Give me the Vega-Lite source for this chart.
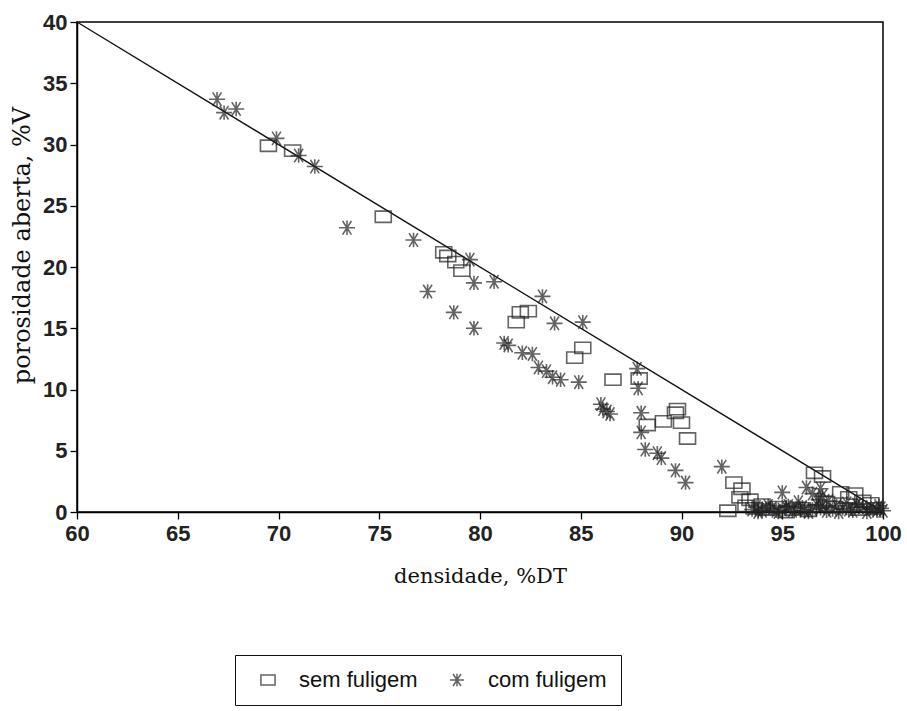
{
  "$schema": "https://vega.github.io/schema/vega-lite/v6.json",
  "width": 806,
  "height": 490,
  "autosize": {"type": "none"},
  "padding": {"left": 77, "top": 22, "right": 24, "bottom": 199},
  "background": "white",
  "config": {
    "view": {"stroke": "black", "strokeWidth": 1.5},
    "axis": {
      "grid": false,
      "labelFlush": false,
      "labelOverlap": false,
      "domainColor": "black",
      "domainWidth": 1.5,
      "tickColor": "black",
      "tickWidth": 1.3,
      "tickSize": 7,
      "labelFont": "Liberation Sans",
      "labelFontSize": 22,
      "labelFontWeight": "bold",
      "labelColor": "#222",
      "titleFont": "DejaVu Serif",
      "titleFontWeight": "normal",
      "titleColor": "#111"
    }
  },
  "datasets": {
    "ref": [{"x": 60, "y": 40}, {"x": 100, "y": 0}],
    "pts": [
      {"serie": "sem fuligem", "d": 69.5, "p": 29.9},
      {"serie": "sem fuligem", "d": 70.7, "p": 29.5},
      {"serie": "sem fuligem", "d": 75.2, "p": 24.1},
      {"serie": "sem fuligem", "d": 78.2, "p": 21.2},
      {"serie": "sem fuligem", "d": 78.4, "p": 20.9},
      {"serie": "sem fuligem", "d": 78.8, "p": 20.4},
      {"serie": "sem fuligem", "d": 79.1, "p": 19.7},
      {"serie": "sem fuligem", "d": 81.8, "p": 15.5},
      {"serie": "sem fuligem", "d": 82.0, "p": 16.3},
      {"serie": "sem fuligem", "d": 82.4, "p": 16.4},
      {"serie": "sem fuligem", "d": 84.7, "p": 12.6},
      {"serie": "sem fuligem", "d": 85.1, "p": 13.4},
      {"serie": "sem fuligem", "d": 86.6, "p": 10.8},
      {"serie": "sem fuligem", "d": 87.9, "p": 10.9},
      {"serie": "sem fuligem", "d": 88.3, "p": 7.1},
      {"serie": "sem fuligem", "d": 89.1, "p": 7.4},
      {"serie": "sem fuligem", "d": 89.7, "p": 8.1},
      {"serie": "sem fuligem", "d": 89.8, "p": 8.4},
      {"serie": "sem fuligem", "d": 90.0, "p": 7.3},
      {"serie": "sem fuligem", "d": 90.3, "p": 6.0},
      {"serie": "sem fuligem", "d": 92.3, "p": 0.1},
      {"serie": "sem fuligem", "d": 92.6, "p": 2.4},
      {"serie": "sem fuligem", "d": 93.0, "p": 1.9},
      {"serie": "sem fuligem", "d": 92.9, "p": 1.2},
      {"serie": "sem fuligem", "d": 93.4, "p": 1.0},
      {"serie": "sem fuligem", "d": 93.2, "p": 0.5},
      {"serie": "sem fuligem", "d": 93.6, "p": 0.3},
      {"serie": "sem fuligem", "d": 94.0, "p": 0.6},
      {"serie": "sem fuligem", "d": 94.2, "p": 0.2},
      {"serie": "sem fuligem", "d": 94.8, "p": 0.4},
      {"serie": "sem fuligem", "d": 95.2, "p": 0.0},
      {"serie": "sem fuligem", "d": 95.5, "p": 0.2},
      {"serie": "sem fuligem", "d": 96.0, "p": 0.3},
      {"serie": "sem fuligem", "d": 96.3, "p": 0.1},
      {"serie": "sem fuligem", "d": 96.6, "p": 3.2},
      {"serie": "sem fuligem", "d": 97.0, "p": 2.9},
      {"serie": "sem fuligem", "d": 97.2, "p": 0.8},
      {"serie": "sem fuligem", "d": 97.6, "p": 0.4},
      {"serie": "sem fuligem", "d": 97.9, "p": 1.6},
      {"serie": "sem fuligem", "d": 98.3, "p": 1.2},
      {"serie": "sem fuligem", "d": 98.6, "p": 1.5},
      {"serie": "sem fuligem", "d": 98.8, "p": 0.2},
      {"serie": "sem fuligem", "d": 99.0, "p": 0.9},
      {"serie": "sem fuligem", "d": 99.4, "p": 0.7},
      {"serie": "sem fuligem", "d": 99.6, "p": 0.3},
      {"serie": "com fuligem", "d": 66.95, "p": 33.7},
      {"serie": "com fuligem", "d": 67.3, "p": 32.6},
      {"serie": "com fuligem", "d": 67.9, "p": 32.9},
      {"serie": "com fuligem", "d": 69.9, "p": 30.5},
      {"serie": "com fuligem", "d": 71.0, "p": 29.1},
      {"serie": "com fuligem", "d": 71.8, "p": 28.2},
      {"serie": "com fuligem", "d": 73.4, "p": 23.2},
      {"serie": "com fuligem", "d": 76.7, "p": 22.2},
      {"serie": "com fuligem", "d": 77.4, "p": 18.0},
      {"serie": "com fuligem", "d": 78.7, "p": 16.3},
      {"serie": "com fuligem", "d": 79.5, "p": 20.6},
      {"serie": "com fuligem", "d": 79.7, "p": 18.7},
      {"serie": "com fuligem", "d": 79.7, "p": 15.0},
      {"serie": "com fuligem", "d": 80.7, "p": 18.8},
      {"serie": "com fuligem", "d": 81.2, "p": 13.8},
      {"serie": "com fuligem", "d": 81.4, "p": 13.6},
      {"serie": "com fuligem", "d": 82.1, "p": 13.0},
      {"serie": "com fuligem", "d": 82.6, "p": 12.9},
      {"serie": "com fuligem", "d": 82.9, "p": 11.8},
      {"serie": "com fuligem", "d": 83.3, "p": 11.5},
      {"serie": "com fuligem", "d": 83.6, "p": 11.0},
      {"serie": "com fuligem", "d": 84.0, "p": 10.8},
      {"serie": "com fuligem", "d": 84.9, "p": 10.6},
      {"serie": "com fuligem", "d": 83.1, "p": 17.6},
      {"serie": "com fuligem", "d": 83.7, "p": 15.4},
      {"serie": "com fuligem", "d": 85.1, "p": 15.5},
      {"serie": "com fuligem", "d": 86.0, "p": 8.8},
      {"serie": "com fuligem", "d": 86.1, "p": 8.4},
      {"serie": "com fuligem", "d": 86.45, "p": 8.0},
      {"serie": "com fuligem", "d": 86.3, "p": 8.2},
      {"serie": "com fuligem", "d": 87.8, "p": 11.7},
      {"serie": "com fuligem", "d": 87.85, "p": 10.1},
      {"serie": "com fuligem", "d": 88.0, "p": 8.1},
      {"serie": "com fuligem", "d": 88.0, "p": 6.5},
      {"serie": "com fuligem", "d": 88.2, "p": 5.1},
      {"serie": "com fuligem", "d": 88.8, "p": 4.8},
      {"serie": "com fuligem", "d": 89.0, "p": 4.4},
      {"serie": "com fuligem", "d": 89.7, "p": 3.4},
      {"serie": "com fuligem", "d": 90.2, "p": 2.4},
      {"serie": "com fuligem", "d": 92.0, "p": 3.7},
      {"serie": "com fuligem", "d": 95.0, "p": 1.6},
      {"serie": "com fuligem", "d": 96.2, "p": 2.0},
      {"serie": "com fuligem", "d": 96.9, "p": 1.9},
      {"serie": "com fuligem", "d": 96.5, "p": 1.5},
      {"serie": "com fuligem", "d": 97.0, "p": 1.3},
      {"serie": "com fuligem", "d": 96.8, "p": 1.0},
      {"serie": "com fuligem", "d": 97.3, "p": 0.9},
      {"serie": "com fuligem", "d": 95.8, "p": 0.8},
      {"serie": "com fuligem", "d": 98.2, "p": 0.7},
      {"serie": "com fuligem", "d": 98.7, "p": 0.6},
      {"serie": "com fuligem", "d": 93.5, "p": 0.2},
      {"serie": "com fuligem", "d": 93.7, "p": 0.4},
      {"serie": "com fuligem", "d": 93.8, "p": 0.0},
      {"serie": "com fuligem", "d": 94.0, "p": 0.1},
      {"serie": "com fuligem", "d": 94.2, "p": 0.3},
      {"serie": "com fuligem", "d": 94.3, "p": 0.5},
      {"serie": "com fuligem", "d": 94.5, "p": 0.3},
      {"serie": "com fuligem", "d": 94.7, "p": 0.1},
      {"serie": "com fuligem", "d": 94.8, "p": 0.0},
      {"serie": "com fuligem", "d": 95.0, "p": 0.2},
      {"serie": "com fuligem", "d": 95.2, "p": 0.4},
      {"serie": "com fuligem", "d": 95.3, "p": 0.5},
      {"serie": "com fuligem", "d": 95.5, "p": 0.1},
      {"serie": "com fuligem", "d": 95.7, "p": 0.3},
      {"serie": "com fuligem", "d": 96.0, "p": 0.4},
      {"serie": "com fuligem", "d": 96.1, "p": 0.1},
      {"serie": "com fuligem", "d": 96.3, "p": 0.0},
      {"serie": "com fuligem", "d": 96.5, "p": 0.2},
      {"serie": "com fuligem", "d": 96.7, "p": 0.6},
      {"serie": "com fuligem", "d": 96.9, "p": 0.3},
      {"serie": "com fuligem", "d": 97.0, "p": 0.5},
      {"serie": "com fuligem", "d": 97.2, "p": 0.1},
      {"serie": "com fuligem", "d": 97.5, "p": 0.2},
      {"serie": "com fuligem", "d": 97.7, "p": 0.5},
      {"serie": "com fuligem", "d": 97.8, "p": 0.0},
      {"serie": "com fuligem", "d": 98.0, "p": 0.3},
      {"serie": "com fuligem", "d": 98.3, "p": 0.2},
      {"serie": "com fuligem", "d": 98.5, "p": 0.1},
      {"serie": "com fuligem", "d": 98.8, "p": 0.4},
      {"serie": "com fuligem", "d": 99.0, "p": 0.4},
      {"serie": "com fuligem", "d": 99.2, "p": 0.0},
      {"serie": "com fuligem", "d": 99.4, "p": 0.3},
      {"serie": "com fuligem", "d": 99.5, "p": 0.2},
      {"serie": "com fuligem", "d": 99.7, "p": 0.1},
      {"serie": "com fuligem", "d": 99.8, "p": 0.5},
      {"serie": "com fuligem", "d": 99.9, "p": 0.3},
      {"serie": "com fuligem", "d": 100.0, "p": 0.1}
    ]
  },
  "layer": [
    {
      "data": {"name": "ref"},
      "mark": {"type": "line", "color": "#111", "strokeWidth": 1.4},
      "encoding": {
        "x": {"field": "x", "type": "quantitative", "scale": {"domain": [60, 100], "nice": false, "zero": false},
              "axis": {"values": [60, 65, 70, 75, 80, 85, 90, 95, 100], "title": "densidade, %DT", "titleFontSize": 21, "titlePadding": 21, "labelPadding": 4}},
        "y": {"field": "y", "type": "quantitative", "scale": {"domain": [0, 40], "nice": false},
              "axis": {"values": [0, 5, 10, 15, 20, 25, 30, 35, 40], "title": "porosidade aberta, %V", "titleFontSize": 24, "titleX": -55, "titleY": 223, "titleAngle": 270, "titleAlign": "center", "titleBaseline": "middle", "labelPadding": 3}}
      }
    },
    {
      "data": {"name": "pts"},
      "mark": {"type": "point", "filled": false, "strokeWidth": 1.6, "color": "#222", "size": 256, "clip": false},
      "encoding": {
        "x": {"field": "d", "type": "quantitative"},
        "y": {"field": "p", "type": "quantitative"},
        "shape": {
          "field": "serie", "type": "nominal",
          "scale": {"domain": ["sem fuligem", "com fuligem"],
                    "range": ["M-1,-0.7H1V0.7H-1Z", "M-1,0H1M-0.55,-0.85L0.55,0.85M-0.55,0.85L0.55,-0.85M0,-0.9V0.9"]},
          "legend": {
            "title": null,
            "orient": "none",
            "legendX": 158,
            "legendY": 633,
            "direction": "horizontal",
            "strokeColor": "#111",
            "padding": 14,
            "symbolOffset": 8,
            "labelFont": "Liberation Sans",
            "labelFontSize": 22,
            "labelColor": "#111",
            "symbolSize": 200,
            "symbolStrokeWidth": 1.5,
            "symbolStrokeColor": "#222",
            "labelOffset": 20,
            "columnPadding": 20
          }
        }
      }
    }
  ]
}
